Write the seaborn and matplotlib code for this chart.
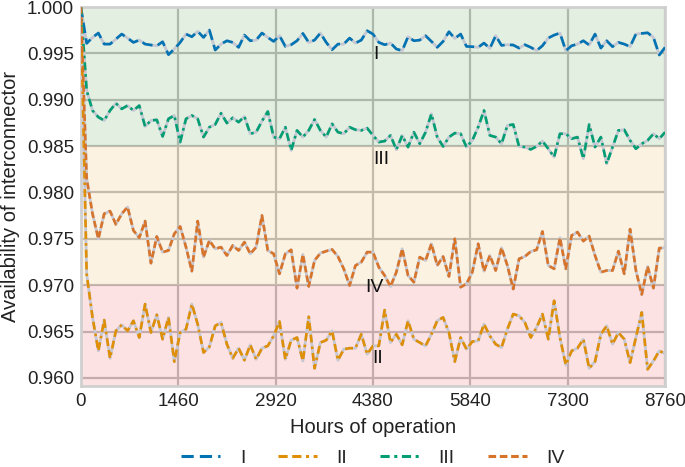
import numpy as np
import pandas as pd
import matplotlib
matplotlib.use("Agg")
import matplotlib.pyplot as plt
import seaborn as sns

hours = np.linspace(0, 8760, 101)

series_I = [1.0, 0.99608, 0.99672, 0.99719, 0.99600, 0.99600, 0.99654, 0.99708, 0.99665, 0.99618,
            0.99643, 0.99600, 0.99590, 0.99582, 0.99625, 0.99486, 0.99547, 0.99618, 0.99708, 0.99679,
            0.99737, 0.99672, 0.99751, 0.99536, 0.99600, 0.99636, 0.99618, 0.99565, 0.99697, 0.99636,
            0.99643, 0.99719, 0.99672, 0.99629, 0.99690, 0.99575, 0.99593, 0.99636, 0.99715, 0.99618,
            0.99643, 0.99719, 0.99618, 0.99539, 0.99600, 0.99600, 0.99665, 0.99611, 0.99643, 0.99744,
            0.99708, 0.99618, 0.99593, 0.99611, 0.99547, 0.99529, 0.99679, 0.99636, 0.99643, 0.99690,
            0.99629, 0.99565, 0.99629, 0.99733, 0.99661, 0.99708, 0.99575, 0.99572, 0.99565, 0.99611,
            0.99554, 0.99690, 0.99586, 0.99593, 0.99590, 0.99557, 0.99593, 0.99565, 0.99529, 0.99582,
            0.99665, 0.99697, 0.99719, 0.99529, 0.99582, 0.99600, 0.99636, 0.99590, 0.99708, 0.99557,
            0.99636, 0.99572, 0.99618, 0.99600, 0.99572, 0.99708, 0.99715, 0.99722, 0.99672, 0.99482,
            0.99565]

series_II = [1.0, 0.9712, 0.96652, 0.96291, 0.96623, 0.96211, 0.96507, 0.96572, 0.96507, 0.96616,
             0.96435, 0.96796, 0.96489, 0.96681, 0.96417, 0.96652, 0.96175, 0.96489, 0.96525, 0.96796,
             0.96579, 0.96273, 0.96334, 0.96561, 0.96597, 0.96363, 0.96211, 0.96320, 0.96190, 0.96356,
             0.96200, 0.96320, 0.96345, 0.96453, 0.96608, 0.96200, 0.96406, 0.96435, 0.96182, 0.96659,
             0.96103, 0.96381, 0.96406, 0.96507, 0.96190, 0.96309, 0.96320, 0.96320, 0.96471, 0.96255,
             0.96345, 0.96345, 0.96731, 0.96381, 0.96471, 0.96356, 0.96616, 0.96417, 0.96381, 0.96345,
             0.96471, 0.96616, 0.96652, 0.96489, 0.96175, 0.96435, 0.96309, 0.96392, 0.96399, 0.96579,
             0.96453, 0.96363, 0.96327, 0.96525, 0.96688, 0.96670, 0.96597, 0.96435, 0.96543, 0.96688,
             0.96417, 0.96832, 0.96435, 0.96139, 0.96291, 0.96320, 0.96417, 0.96103, 0.96175, 0.96471,
             0.96561, 0.96363, 0.96489, 0.96417, 0.96164, 0.96435, 0.96706, 0.96092, 0.96182, 0.96291,
             0.96262]

series_III = [1.0, 0.99099, 0.98884, 0.98812, 0.98776, 0.98884, 0.98962, 0.98901, 0.98937, 0.98884,
              0.98937, 0.98712, 0.98776, 0.98783, 0.98604, 0.98794, 0.98830, 0.98543, 0.98794, 0.98830,
              0.98794, 0.98597, 0.98704, 0.98733, 0.98855, 0.98748, 0.98805, 0.98758, 0.98819, 0.98633,
              0.98650, 0.98769, 0.98873, 0.98597, 0.98579, 0.98704, 0.98453, 0.98669, 0.98597, 0.98669,
              0.98787, 0.98669, 0.98597, 0.98740, 0.98650, 0.98633, 0.98704, 0.98676, 0.98669, 0.98694,
              0.98615, 0.98543, 0.98554, 0.98615, 0.98461, 0.98615, 0.98489, 0.98650, 0.98525, 0.98650,
              0.98848, 0.98597, 0.98496, 0.98597, 0.98640, 0.98633, 0.98489, 0.98561, 0.98704, 0.98884,
              0.98615, 0.98597, 0.98525, 0.98722, 0.98733, 0.98496, 0.98489, 0.98464, 0.98496, 0.98554,
              0.98471, 0.98382, 0.98633, 0.98633, 0.98579, 0.98597, 0.98364, 0.98733, 0.98489, 0.98597,
              0.98310, 0.98489, 0.98669, 0.98676, 0.98561, 0.98471, 0.98525, 0.98561, 0.98633, 0.98579,
              0.98650]

series_IV = [1.0, 0.9815, 0.97770, 0.97500, 0.97770, 0.97799, 0.97655, 0.97770, 0.97842, 0.97590,
             0.97511, 0.97691, 0.97237, 0.97525, 0.97356, 0.97374, 0.97554, 0.97633, 0.97410, 0.97151,
             0.97691, 0.97302, 0.97482, 0.97392, 0.97410, 0.97320, 0.97428, 0.97374, 0.97464, 0.97338,
             0.97410, 0.97752, 0.97374, 0.97338, 0.97122, 0.97338, 0.97381, 0.96968, 0.97331, 0.96986,
             0.97266, 0.97345, 0.97367, 0.97385, 0.97309, 0.97176, 0.96996, 0.97212, 0.97248, 0.97356,
             0.97356, 0.97194, 0.97104, 0.96986, 0.97140, 0.97392, 0.97104, 0.97032, 0.97302, 0.97266,
             0.97446, 0.97212, 0.97309, 0.97094, 0.97500, 0.96978, 0.97014, 0.97140, 0.97446, 0.97151,
             0.97320, 0.97158, 0.97403, 0.97212, 0.96958, 0.97284, 0.97309, 0.97363, 0.97381, 0.97579,
             0.97212, 0.97176, 0.97511, 0.97176, 0.97536, 0.97572, 0.97475, 0.97529, 0.97320, 0.97140,
             0.97158, 0.97158, 0.97367, 0.97122, 0.97604, 0.97158, 0.96899, 0.97201, 0.96968, 0.97399,
             0.97403]

series_names = ["I", "II", "III", "IV"]
series_colors = ["#0173b2", "#de8f05", "#029e73", "#d8742a"]
band_limits = [(0.985, 1.0), (0.970, 0.985), (0.9585, 0.970)]
band_colors = ["#a5cd9e", "#f8d7a2", "#f8a2a2"]
label_pos = {"I": (4425, 0.9949), "II": (4455, 0.9621), "III": (4500, 0.9835), "IV": (4400, 0.9697)}
x_ticks = [0, 1460, 2920, 4380, 5840, 7300, 8760]
y_ticks = [0.960, 0.965, 0.970, 0.975, 0.980, 0.985, 0.990, 0.995, 1.000]

df = pd.DataFrame({
    "hours": np.tile(hours, 4),
    "availability": series_I + series_II + series_III + series_IV,
    "series": np.repeat(series_names, len(hours)),
})

sns.set_theme(style="white")
plt.rcParams["font.family"] = ["Liberation Sans", "DejaVu Sans"]

fig = plt.figure(figsize=(6.85, 4.67), dpi=100)
ax = fig.add_axes([0.118, 0.173, 0.853, 0.812])

ax.set_axisbelow(True)
ax.grid(True, color="#b0b0b0", linewidth=1.6, zorder=0.5)
for (lo, hi), c in zip(band_limits, band_colors):
    ax.axhspan(lo, hi, color=c, alpha=0.3, zorder=1, linewidth=0)

sns.lineplot(data=df, x="hours", y="availability", units="series", estimator=None,
             color="#c5c7d3", linewidth=2.0, legend=False, ax=ax, zorder=2)

dashes = {"I": (4, 2), "II": (3, 1.5, 3, 1.5, 1, 1.5), "III": (3, 1.5, 1, 1.5), "IV": (2.5, 1.2)}
sns.lineplot(data=df, x="hours", y="availability", hue="series", style="series",
             palette=dict(zip(series_names, series_colors)), dashes=dashes,
             linewidth=1.9, ax=ax, zorder=3)

for name, (xx, yy) in label_pos.items():
    ax.text(xx, yy, name, fontsize=14, ha="center", va="center", color="#111111", zorder=4)

ax.set_xlim(0, 8760)
ax.set_ylim(0.9591, 1.0)
ax.set_xticks(x_ticks)
ax.set_yticks(y_ticks)
ax.set_yticklabels([f"{v:.3f}" for v in y_ticks])
ax.tick_params(labelsize=13.5, colors="#222222", length=0, pad=5)
ax.set_xlabel("Hours of operation", fontsize=14.5, color="#222222", labelpad=6)
ax.set_ylabel("Availability of interconnector", fontsize=14.5, color="#222222", labelpad=5)
for s in ax.spines.values():
    s.set_color("#d0d0d0")
    s.set_linewidth(2)

leg = ax.legend(loc="center", bbox_to_anchor=(0.5, -0.19), ncol=4, frameon=False,
                fontsize=14, handlelength=2.0, handletextpad=1.0, columnspacing=1.7)
for line in leg.get_lines():
    line.set_linewidth(2.2)

fig.savefig("out.png", dpi=100)
